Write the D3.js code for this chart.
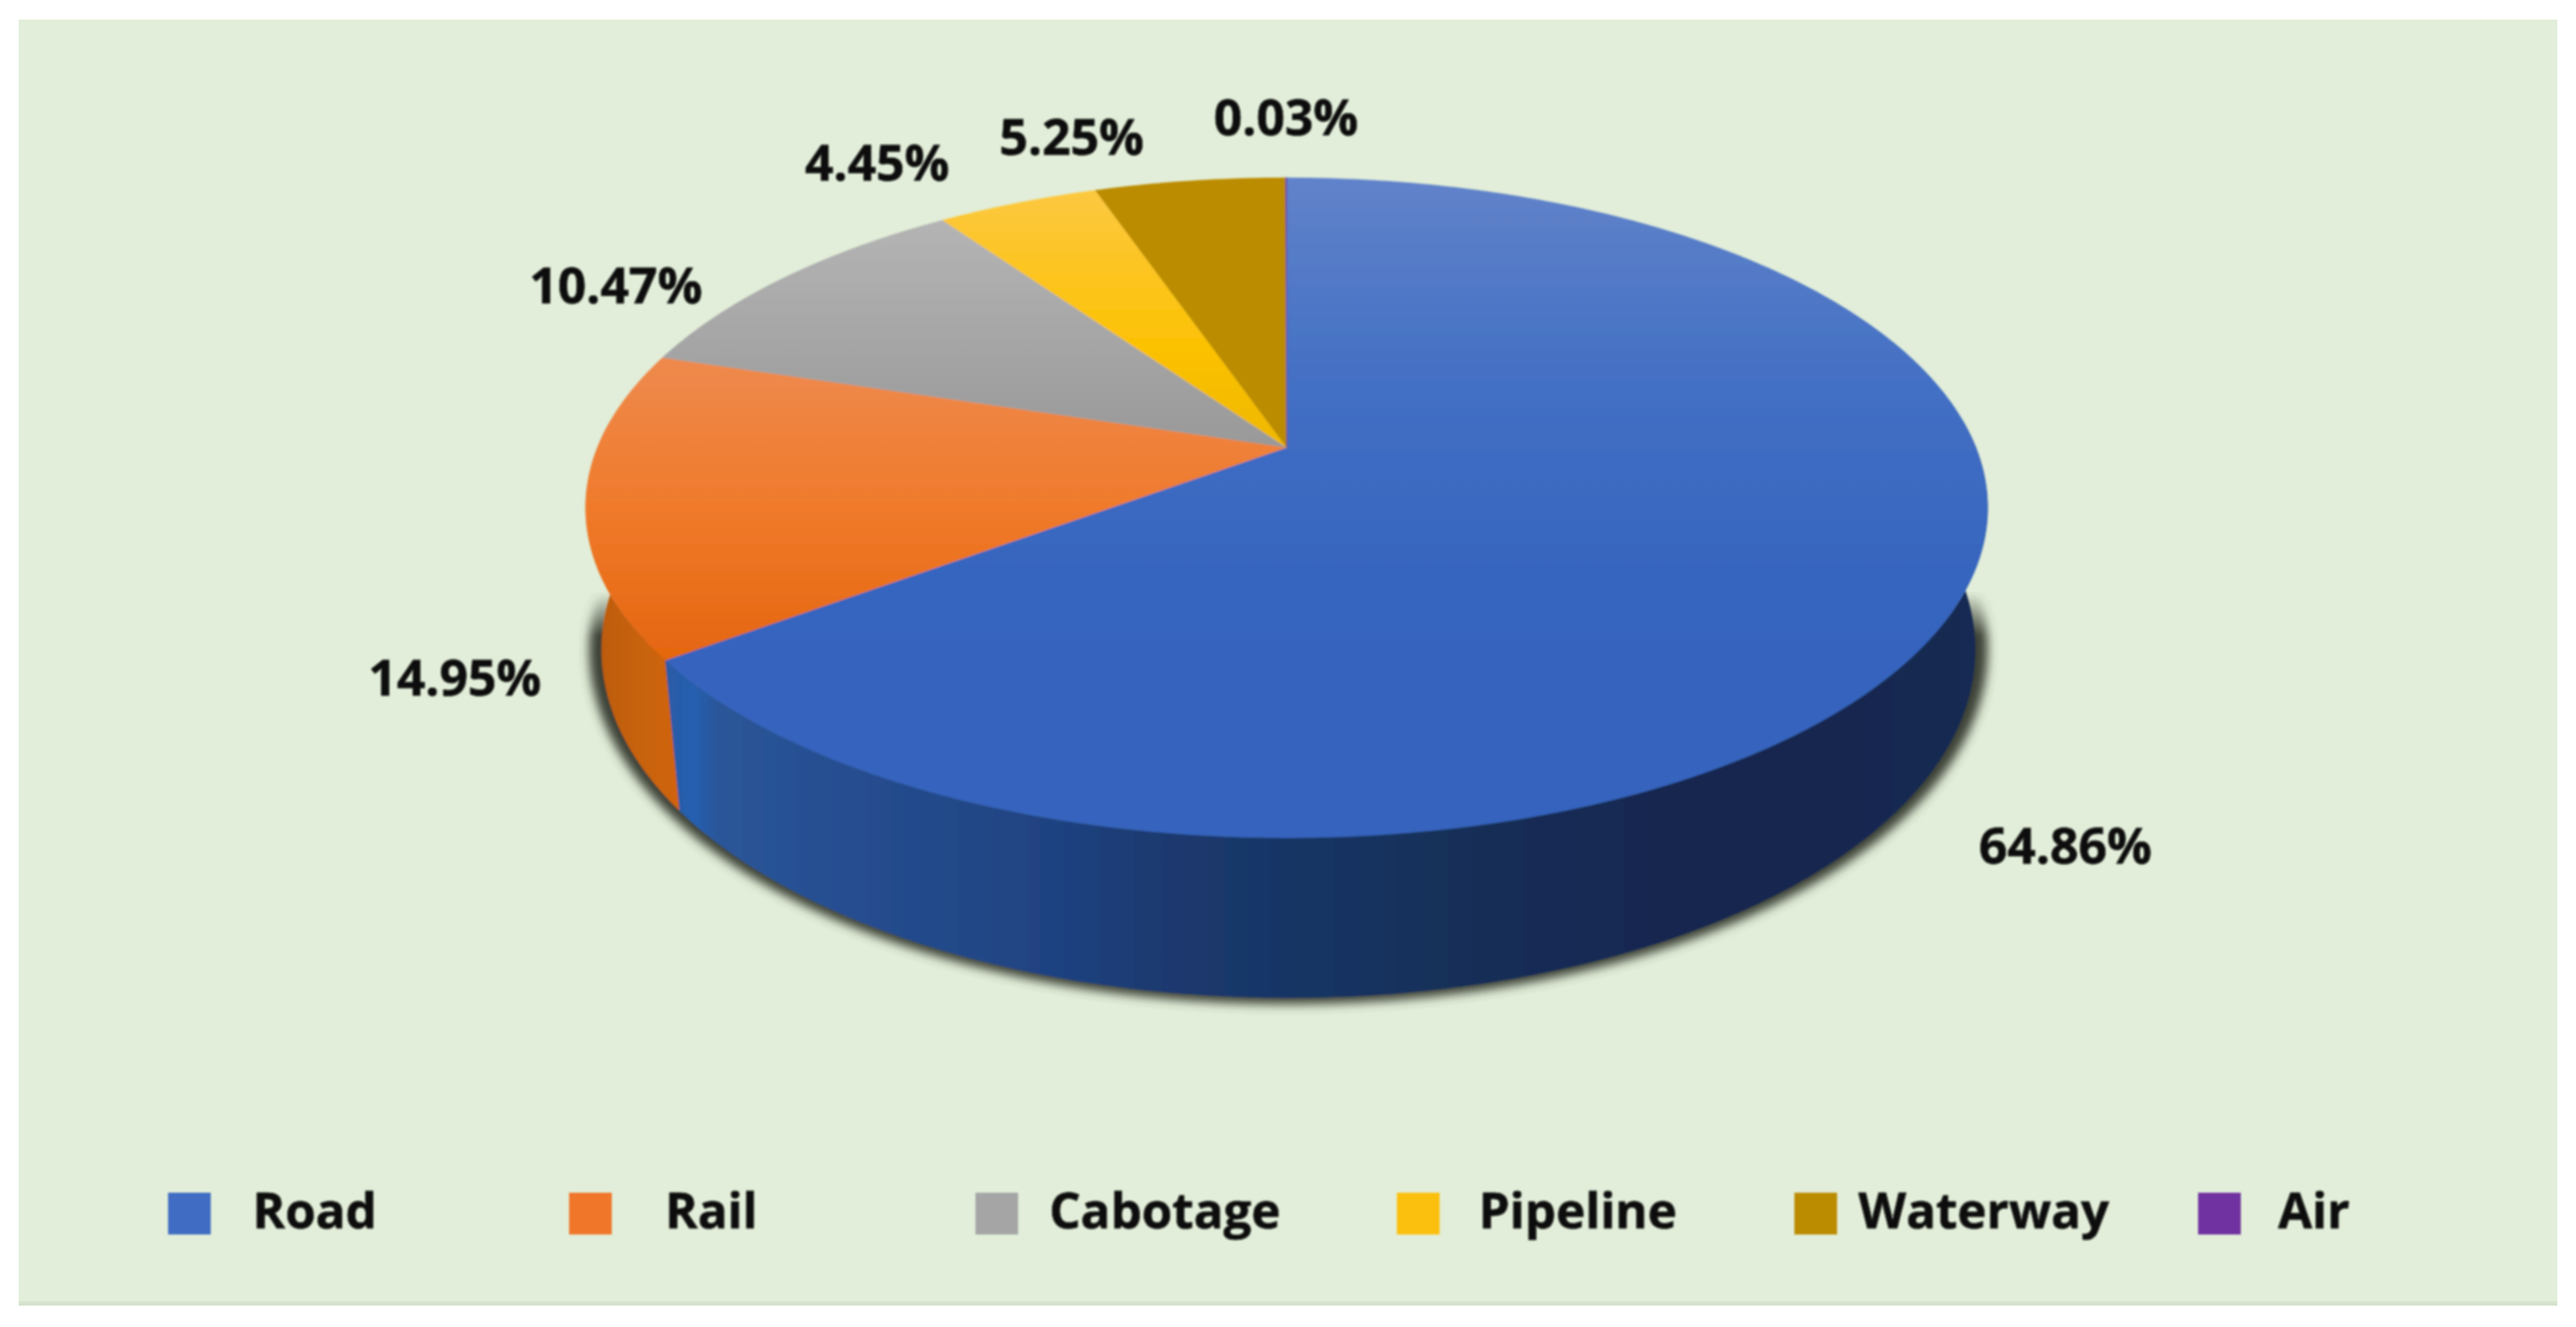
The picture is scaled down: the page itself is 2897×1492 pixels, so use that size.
<!DOCTYPE html>
<html><head><meta charset="utf-8">
<script src="https://cdnjs.cloudflare.com/ajax/libs/d3/7.8.5/d3.min.js"></script>
<style>html,body{margin:0;padding:0;background:#fff}svg{display:block}text{font-family:"Open Sans",sans-serif;font-weight:700;fill:#0a0a0a;stroke:#0a0a0a;stroke-width:.6px}</style>
</head><body><svg id="c" width="2897" height="1492"></svg>
<script>
const categories = ["Road","Rail","Cabotage","Pipeline","Waterway","Air"];
const shares = [64.86,14.95,10.47,4.45,5.25,0.03];
const shareLabels = ["64.86%","14.95%","10.47%","4.45%","5.25%","0.03%"];
const swatchColors = ["#3f6cc3","#f0762a","#a5a5a5","#fbbf0c","#bb8b00","#7030a0"];

// layout
const legendSwatchX = [189,640,1097,1571,2018,2472];
const legendTextX = [284,748,1180,1663,2090,2562];
const labelNudge = [[5,246],[-33,189],[-119,34],[-122,-12],[-120,-14],[0,-32]];
const cx=1447, apexY=503, k=0.183, Rx=775, Ry=358.6, ellY=571, sx=0.98, sy=1.055, botY=730.6, botDx=2;

const svg=d3.select("#c");
const defs=svg.append("defs");
const grad=(id,attrs,stops)=>{
  const g=defs.append("linearGradient").attr("id",id).attr("gradientUnits","userSpaceOnUse");
  Object.entries(attrs).forEach(([a,v])=>g.attr(a,v));
  stops.forEach(([o,c,op])=>{const s=g.append("stop").attr("offset",o).attr("stop-color",c); if(op!==undefined) s.attr("stop-opacity",op);});
};
const v=(id,y1,y2,st)=>grad(id,{x1:0,x2:0,y1,y2},st);
v("t0",200,942,[[0,"#6183ca"],[.3,"#4470c4"],[.6,"#3665bf"],[1,"#3564be"]]);
v("t1",400,745,[[0,"#ee8a4e"],[.5,"#f07a2b"],[1,"#e4660f"]]);
v("t2",248,503,[[0,"#b4b4b4"],[1,"#999999"]]);
v("t3",214,503,[[0,"#fcc840"],[.6,"#fcc204"],[1,"#efb800"]]);
v("t4",200,503,[[0,"#bc8c00"],[1,"#bc8c00"]]);
v("t5",200,503,[[0,"#7030a0"],[1,"#7030a0"]]);
grad("w0",{x1:750,x2:2230,y1:0,y2:0},[[0,"#2a5aa5"],[.02,"#2660b0"],[.04,"#2a5598"],[.12,"#274f92"],[.3,"#1f4280"],[.37,"#1b3a70"],[.59,"#163059"],[.78,"#13264f"],[1,"#152a52"]]);
grad("w1",{x1:660,x2:770,y1:0,y2:0},[[0,"#b9590f"],[.6,"#c9640f"],[1,"#d2640f"]]);
grad("fade",{x1:0,x2:0,y1:665,y2:715},[[0,"#000"],[1,"#fff"]]);
const blur=(id,s)=>defs.append("filter").attr("id",id).attr("x","-10%").attr("y","-10%").attr("width","120%").attr("height","120%").append("feGaussianBlur").attr("stdDeviation",s);
blur("sh",6); blur("soft",0.8);
defs.append("mask").attr("id","below").attr("maskUnits","userSpaceOnUse").attr("x",0).attr("y",0).attr("width",2897).attr("height",1492)
 .append("rect").attr("width",2897).attr("height",1492).attr("fill","url(#fade)");

const pie=d3.pie().sort(null).value(d=>d).startAngle(0).endAngle(2*Math.PI);
const arcs=pie(shares);
const face=(t,r=1)=>{const u=r*Math.sin(t),w=-r*Math.cos(t),d=1-k*w;return [cx+Rx*u/d,apexY+Ry*w/d];};
const bot=(t,g=1)=>{const [x,y]=face(t);return [cx+botDx+(x-cx)*sx*g,botY+(y-ellY)*sy*g];};
const samples=(a,b)=>{const n=Math.max(2,Math.ceil((b-a)/0.01));return d3.range(n+1).map(i=>a+(b-a)*i/n);};
const line=d3.line();

svg.append("rect").attr("x",21).attr("y",22).attr("width",2855).attr("height",1446).attr("fill","#e2eed9");
svg.append("rect").attr("x",21).attr("y",1463).attr("width",2855).attr("height",5).attr("fill","#d6e3cd");
const g=svg.append("g").attr("filter","url(#soft)");
g.append("g").attr("mask","url(#below)").append("path")
 .attr("d",line(samples(0,2*Math.PI).map(t=>bot(t,1.018)))+"Z").attr("fill","#3b4036")
 .attr("filter","url(#sh)");

// side walls
const visA=85*Math.PI/180, visB=275*Math.PI/180;
g.selectAll("path.wall").data(arcs.filter(d=>d.startAngle<visB&&d.endAngle>visA)).join("path").attr("class","wall")
 .attr("d",d=>{const a=Math.max(d.startAngle,visA),b=Math.min(d.endAngle,visB),s=samples(a,b);
   return line(s.map(t=>face(t)).concat(s.slice().reverse().map(t=>bot(t))))+"Z";})
 .attr("fill",d=>`url(#w${d.index})`);

// top faces
g.selectAll("path.face").data(arcs).join("path").attr("class","face")
 .attr("d",d=>line([face(0,0)].concat(samples(d.startAngle,d.endAngle).map(t=>face(t))))+"Z")
 .attr("fill",d=>`url(#t${d.index})`).attr("stroke",d=>`url(#t${d.index})`).attr("stroke-width",0.5);

// value labels
g.selectAll("text.val").data(arcs).join("text").attr("class","val")
 .attr("text-anchor","middle").attr("font-size",56)
 .attr("x",d=>face((d.startAngle+d.endAngle)/2,1.14)[0]+labelNudge[d.index][0])
 .attr("y",d=>face((d.startAngle+d.endAngle)/2,1.14)[1]+labelNudge[d.index][1]+19)
 .text((d,i)=>shareLabels[i]);

// legend
const leg=g.selectAll("g.leg").data(categories).join("g").attr("class","leg");
leg.append("rect").attr("x",(d,i)=>legendSwatchX[i]).attr("y",1341).attr("width",48).attr("height",47).attr("fill",(d,i)=>swatchColors[i]);
leg.append("text").attr("x",(d,i)=>legendTextX[i]).attr("y",1381).attr("font-size",55.5).text(d=>d);
</script></body></html>
